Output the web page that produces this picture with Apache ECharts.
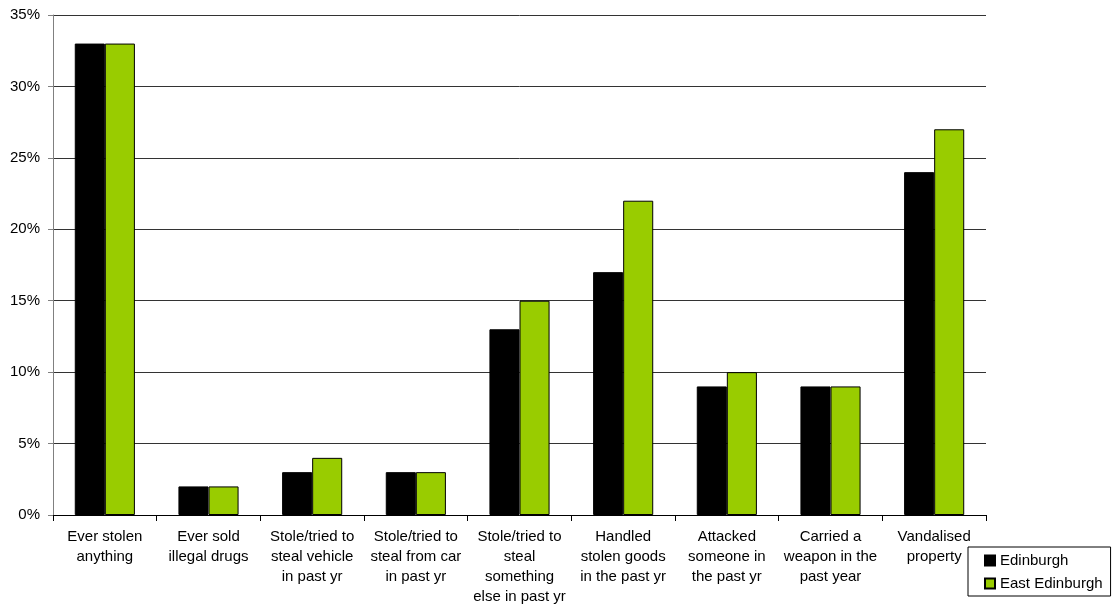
<!DOCTYPE html>
<html>
<head>
<meta charset="utf-8">
<script src="https://cdn.jsdelivr.net/npm/echarts@6/dist/echarts.min.js"></script>
<style>html,body{margin:0;padding:0;background:#fff}#c{width:1116px;height:605px}</style>
</head>
<body>
<div id="c"></div>
<script>
const categories = [
  "Ever stolen\nanything",
  "Ever sold\nillegal drugs",
  "Stole/tried to\nsteal vehicle\nin past yr",
  "Stole/tried to\nsteal from car\nin past yr",
  "Stole/tried to\nsteal\nsomething\nelse in past yr",
  "Handled\nstolen goods\nin the past yr",
  "Attacked\nsomeone in\nthe past yr",
  "Carried a\nweapon in the\npast year",
  "Vandalised\nproperty"
];
const edinburgh = [33, 2, 3, 3, 13, 17, 9, 9, 24];
const eastEdinburgh = [33, 2, 4, 3, 15, 22, 10, 9, 27];
const seriesNames = ["Edinburgh", "East Edinburgh"];

const chart = echarts.init(document.getElementById('c'));
const font = 'Liberation Sans, Arial, sans-serif';
chart.setOption({
  animation: false,
  textStyle: { fontFamily: font },
  grid: { left: 53, right: 130, top: 15, bottom: 90, containLabel: false, outerBoundsMode: 'none' },
  legend: {
    orient: 'vertical',
    left: 968, top: 547,
    padding: [6, 8, 5, 16],
    borderColor: '#000', borderWidth: 1,
    itemWidth: 10, itemHeight: 10, itemGap: 8,
    icon: 'rect',
    textStyle: { fontFamily: font, fontSize: 15, color: '#000' },
    data: seriesNames
  },
  xAxis: {
    type: 'category',
    data: categories,
    axisLine: { lineStyle: { color: '#000', width: 1 } },
    axisTick: { show: true, length: 6, lineStyle: { color: '#000' } },
    axisLabel: { interval: 0, color: '#000', fontSize: 15, fontFamily: font, lineHeight: 20, margin: 12 }
  },
  yAxis: {
    type: 'value',
    min: 0, max: 35, interval: 5,
    axisLine: { show: true, lineStyle: { color: '#808080', width: 1 } },
    axisTick: { show: true, length: 5, lineStyle: { color: '#808080' } },
    axisLabel: { formatter: '{value}%', color: '#000', fontSize: 15, fontFamily: font, margin: 13 },
    splitLine: { lineStyle: { color: '#333', width: 1 } }
  },
  series: [
    {
      name: seriesNames[0], type: 'bar', data: edinburgh,
      barGap: '0%', barCategoryGap: '42%',
      itemStyle: { color: '#000000', borderColor: '#000', borderWidth: 1 }
    },
    {
      name: seriesNames[1], type: 'bar', data: eastEdinburgh,
      itemStyle: { color: '#99CC00', borderColor: '#000', borderWidth: 1 }
    }
  ]
});
</script>
</body>
</html>
